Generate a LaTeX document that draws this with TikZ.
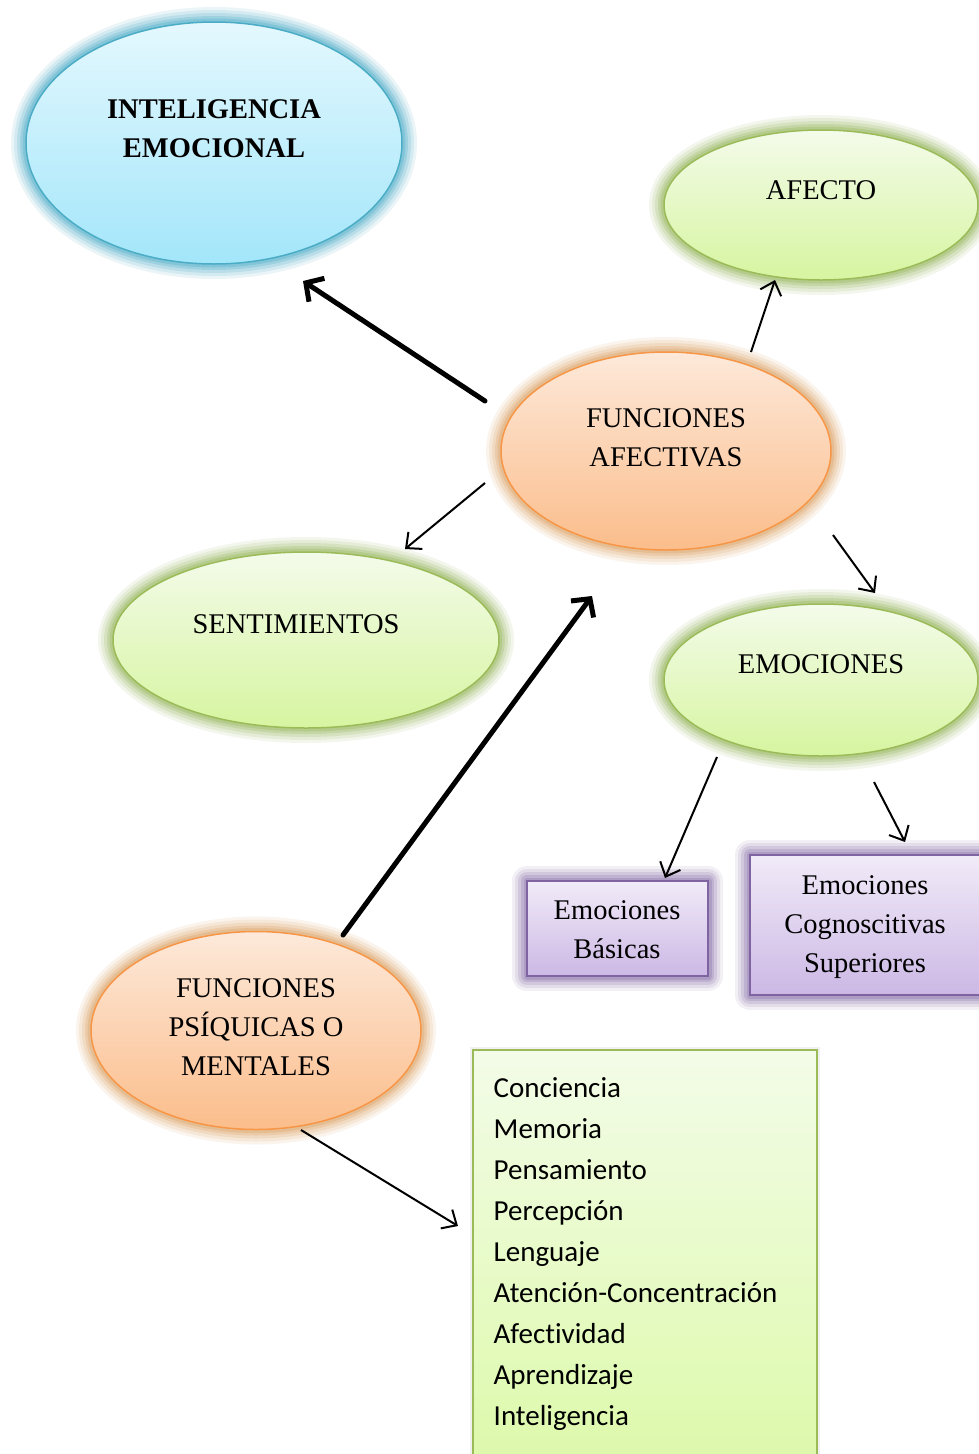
\documentclass[tikz,border=0pt]{standalone}
\usepackage{fontspec}
\setmainfont{Liberation Serif}
\newfontfamily\listfont[Ligatures=NoCommon]{Carlito}
\usetikzlibrary{shapes.geometric,arrows.meta}
\definecolor{ietop}{HTML}{E4F8FE}
\definecolor{iebot}{HTML}{A3E6FA}
\definecolor{iebd}{HTML}{4BACC6}
\definecolor{iegl}{HTML}{3FA6C4}
\definecolor{grtop}{HTML}{F4FBEA}
\definecolor{grbot}{HTML}{D6F5A0}
\definecolor{grbd}{HTML}{9BBB59}
\definecolor{grgl}{HTML}{8CB04A}
\definecolor{ortop}{HTML}{FDE9DA}
\definecolor{orbot}{HTML}{FBBD8B}
\definecolor{orbd}{HTML}{F79646}
\definecolor{orgl}{HTML}{D99A55}
\definecolor{putop}{HTML}{F1EBF8}
\definecolor{pubot}{HTML}{CCB8E5}
\definecolor{pubd}{HTML}{8064A2}
\definecolor{lstop}{HTML}{F3FCE8}
\definecolor{lsbot}{HTML}{DCF9A8}
\tikzset{
  glow/.style={
    preaction={draw=#1,opacity=.10,line width=30pt,line join=round},
    preaction={draw=#1,opacity=.13,line width=24pt,line join=round},
    preaction={draw=#1,opacity=.17,line width=18pt,line join=round},
    preaction={draw=#1,opacity=.22,line width=12pt,line join=round},
    preaction={draw=#1,opacity=.28,line width=7pt,line join=round}},
  el/.style={ellipse,inner sep=0pt,line width=1.5pt},
  bluee/.style={el,draw=iebd,top color=ietop,bottom color=iebot,glow=iegl},
  greene/.style={el,draw=grbd,top color=grtop,bottom color=grbot,glow=grgl},
  orangee/.style={el,draw=orbd,top color=ortop,bottom color=orbot,glow=orgl},
  purpleb/.style={rectangle,inner sep=0pt,line width=1.5pt,draw=pubd,top color=putop,bottom color=pubot,glow=pubd},
  lbl/.style={font=\fontsize{28.5}{39}\selectfont,align=center,inner sep=0pt},
  arr/.style={-{Straight Barb[length=12pt,width=22pt]},line width=2pt},
  bigarr/.style={-{Straight Barb[length=13pt,width=28pt]},line width=5pt,line cap=round}
}
\begin{document}
\begin{tikzpicture}[x=1pt,y=-1pt]
\useasboundingbox[fill=white] (0,0) rectangle (979,1454);
% ellipses
\node[bluee,minimum width=376pt,minimum height=242pt] (ie) at (214,143) {};
\node[lbl,font=\fontsize{28.5}{39}\selectfont\bfseries] (iet) at (214,128.5) {INTELIGENCIA\\EMOCIONAL};
\node[greene,minimum width=314pt,minimum height=150pt] (af) at (821,205) {};
\node[lbl] (aft) at (821,190.5) {AFECTO};
\node[orangee,minimum width=330pt,minimum height=198pt] (fa) at (666,451) {};
\node[lbl] (fat) at (666,437.5) {FUNCIONES\\AFECTIVAS};
\node[greene,minimum width=386pt,minimum height=176pt] (se) at (306,640) {};
\node[lbl] (set) at (296,624.5) {SENTIMIENTOS};
\node[greene,minimum width=314pt,minimum height=152pt] (em) at (821,680) {};
\node[lbl] (emt) at (821,664.5) {EMOCIONES};
\node[purpleb,minimum width=181pt,minimum height=95pt] (eb) at (617.5,928.5) {};
\node[lbl] (ebt) at (617,930) {Emociones\\Básicas};
\node[purpleb,minimum width=230pt,minimum height=140pt] (ec) at (865,925) {};
\node[lbl] (ect) at (865,927.5) {Emociones\\Cognoscitivas\\Superiores};
\node[orangee,minimum width=330pt,minimum height=198pt] (fp) at (256,1030.5) {};
\node[lbl] (fpt) at (256,1027.5) {FUNCIONES\\PSÍQUICAS O\\MENTALES};
% list box
\node[rectangle,anchor=north west,draw=grbd,line width=1.5pt,top color=lstop,bottom color=lsbot,minimum width=344pt,minimum height=430pt,
      preaction={draw=black,opacity=.06,line width=6pt}] (lb) at (472,1049) {};
\node[anchor=north west,align=left,inner sep=0pt,font=\listfont\fontsize{29}{41}\selectfont] (lbt) at (493.5,1077.5)
 {Conciencia\\Memoria\\Pensamiento\\Percepción\\Lenguaje\\Atención-Concentración\\Afectividad\\Aprendizaje\\Inteligencia};
% arrow ends
\coordinate (a1) at (485,401); \coordinate (b1) at (303,281);
\coordinate (a2) at (751,352); \coordinate (b2) at (775,280);
\coordinate (a3) at (485,483); \coordinate (b3) at (405,549);
\coordinate (a4) at (833,535); \coordinate (b4) at (875,593);
\coordinate (a5) at (343,935); \coordinate (b5) at (592,596);
\coordinate (a6) at (717,757); \coordinate (b6) at (665,878);
\coordinate (a7) at (874,782); \coordinate (b7) at (905,842);
\coordinate (a8) at (301,1130); \coordinate (b8) at (458,1226);
\draw[bigarr] (a1) -- (b1);
\draw[arr] (a2) -- (b2);
\draw[arr] (a3) -- (b3);
\draw[arr] (a4) -- (b4);
\draw[bigarr] (a5) -- (b5);
\draw[arr] (a6) -- (b6);
\draw[arr] (a7) -- (b7);
\draw[arr] (a8) -- (b8);
\end{tikzpicture}
\end{document}
